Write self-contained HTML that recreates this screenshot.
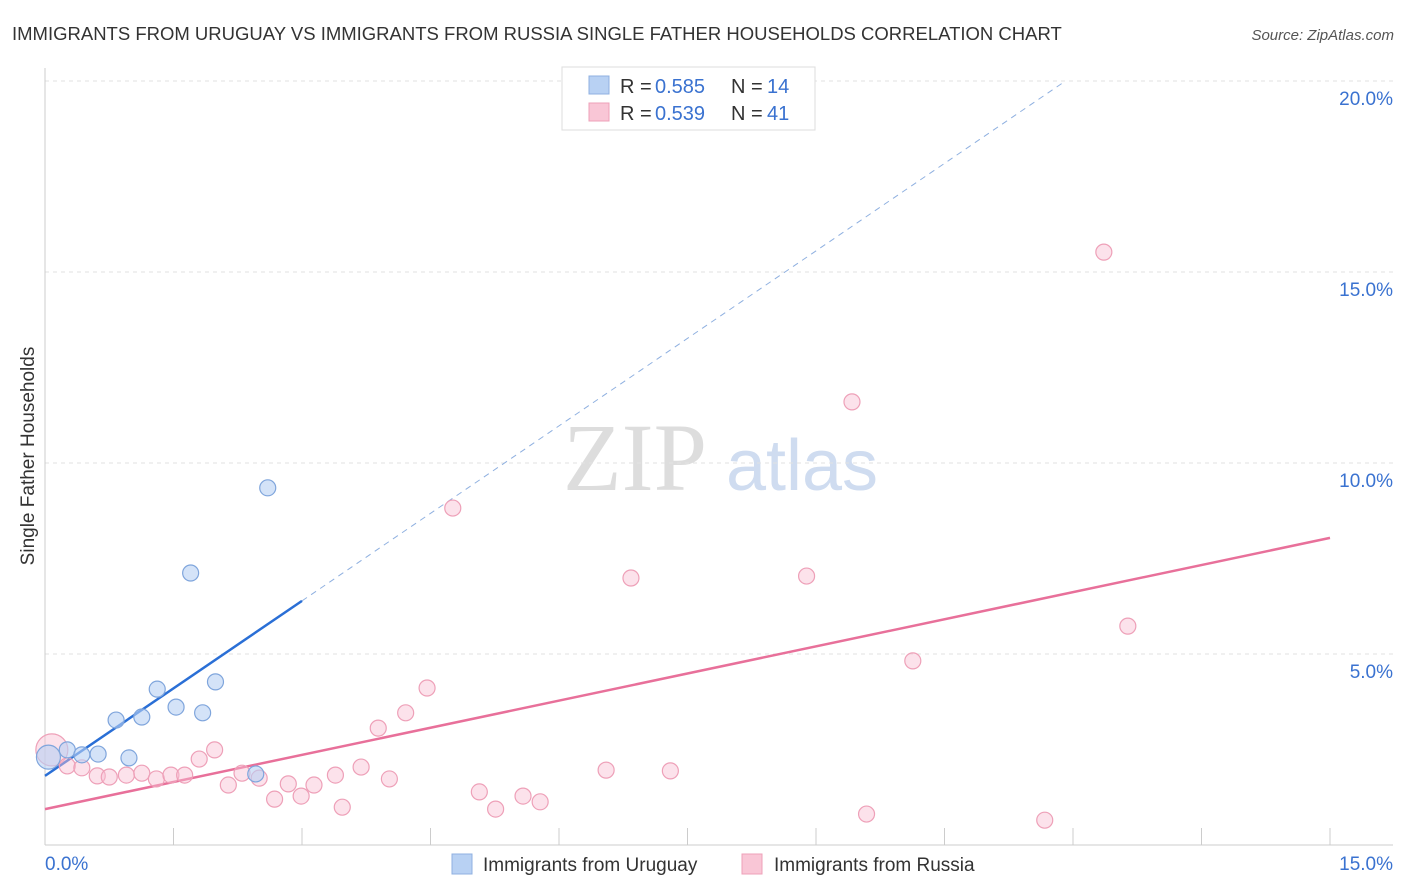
<!DOCTYPE html>
<html><head><meta charset="utf-8"><style>
body{margin:0;background:#fff;font-family:"Liberation Sans",sans-serif}
</style></head><body>
<svg id="c" width="1406" height="892" style="display:block">
<text x="12" y="40" font-size="18.5" fill="#333">IMMIGRANTS FROM URUGUAY VS IMMIGRANTS FROM RUSSIA SINGLE FATHER HOUSEHOLDS CORRELATION CHART</text>
<text x="1394" y="40" font-size="15" fill="#555" font-style="italic" text-anchor="end">Source: ZipAtlas.com</text>
<text x="34" y="456" font-size="19" fill="#333" text-anchor="middle" transform="rotate(-90 34 456)">Single Father Households</text>
<g><text x="635" y="490" font-size="96" fill="#ddd" font-family="Liberation Serif,serif" text-anchor="middle">ZIP</text><text x="802" y="490" font-size="72" fill="#cfdcf0" text-anchor="middle">atlas</text></g>
<g id="grid"></g><g id="axes"></g><g id="lines"></g><g id="pts"></g>
<g>
<rect x="562" y="67" width="253" height="63" fill="#fff" stroke="#ddd"/>
<rect x="589" y="76" width="20" height="18" fill="#b8d1f3" stroke="#8fb0e0"/>
<rect x="589" y="103" width="20" height="18" fill="#f9c6d6" stroke="#eea0b8"/>
<g font-size="20">
<text x="620" y="93" fill="#333">R =</text><text x="655" y="93" fill="#3a72d0">0.585</text><text x="731" y="93" fill="#333">N =</text><text x="767" y="93" fill="#3a72d0">14</text></g>
<g font-size="20">
<text x="620" y="120" fill="#333">R =</text><text x="655" y="120" fill="#3a72d0">0.539</text><text x="731" y="120" fill="#333">N =</text><text x="767" y="120" fill="#3a72d0">41</text></g>
</g>
<g>
<rect x="452" y="854" width="20" height="20" fill="#b8d1f3" stroke="#8fb0e0"/>
<text x="483" y="871" font-size="19" fill="#333">Immigrants from Uruguay</text>
<rect x="742" y="854" width="20" height="20" fill="#f9c6d6" stroke="#eea0b8"/>
<text x="774" y="871" font-size="19" fill="#333">Immigrants from Russia</text>
</g>
</svg>
<script>
const uruguayX=[0.04,0.26,0.43,0.62,0.83,0.98,1.13,1.31,1.53,1.70,1.84,1.99,2.46,2.60];
const uruguayY=[2.3,2.49,2.36,2.38,3.27,2.28,3.35,4.08,3.61,7.12,3.46,4.27,1.86,9.35];
const russiaX=[0.08,0.26,0.43,0.61,0.75,0.95,1.13,1.30,1.47,1.63,1.80,1.98,2.14,2.30,2.50,2.68,2.84,2.99,3.14,3.39,3.47,3.69,3.89,4.02,4.21,4.46,4.76,5.07,5.26,5.58,5.78,6.55,6.84,7.30,8.89,9.42,9.59,10.13,11.67,12.36,12.64];
const russiaY=[2.49,2.07,2.02,1.81,1.78,1.83,1.88,1.73,1.83,1.83,2.25,2.49,1.57,1.88,1.75,1.20,1.60,1.28,1.57,1.83,0.99,2.04,3.06,1.73,3.46,4.11,8.82,1.39,0.94,1.28,1.13,1.96,6.99,1.94,7.04,11.6,0.81,4.82,0.65,15.52,5.73];
const yTicks=[5,10,15,20];
const yTickLabels=["5.0%","10.0%","15.0%","20.0%"];
const xTicks=[0,1.5,3,4.5,6,7.5,9,10.5,12,13.5,15];
const uruguayTrend=[1.81,1.527];
const russiaTrend=[0.94,0.4733];
const NS="http://www.w3.org/2000/svg";
const sx=v=>45+v*85.667, sy=v=>845-v*38.2;
function mk(g,t,a){const e=document.createElementNS(NS,t);for(const k in a)e.setAttribute(k,a[k]);document.getElementById(g).appendChild(e);return e;}
yTicks.forEach((t,i)=>{
 let l=mk('grid','line',{x1:45,x2:1393,y1:sy(t),y2:sy(t),stroke:'#e2e2e2','stroke-dasharray':'4 4'});
 
 
 let tx=mk('grid','text',{x:1393,y:sy(t)+24,'font-size':19,fill:'#3a72d0','text-anchor':'end'});
 tx.textContent=yTickLabels[i];
 
 
});
let ax=mk('axes','line',{x1:45,x2:45,y1:68,y2:845,stroke:'#ccc'});


let bx=mk('axes','line',{x1:45,x2:1393,y1:845,y2:845,stroke:'#ccc'});


xTicks.forEach(t=>{let l=mk('axes','line',{x1:sx(t),x2:sx(t),y1:828,y2:845,stroke:'#ccc'});
 
 });
[[0,'0.0%','start',45],[15,'15.0%','end',1393]].forEach(a=>{let t=mk('axes','text',{x:a[3],y:870,'font-size':19,fill:'#3a72d0','text-anchor':a[2]});t.textContent=a[1];
 
 });
const ut=x=>uruguayTrend[0]+uruguayTrend[1]*x, rt=x=>russiaTrend[0]+russiaTrend[1]*x;
let u1=mk('lines','line',{x1:sx(0),y1:sy(ut(0)),x2:sx(3),y2:sy(ut(3)),stroke:'#2a6fd6','stroke-width':2.5});


const xe=(20-uruguayTrend[0])/uruguayTrend[1];
let u2=mk('lines','line',{x1:sx(3),y1:sy(ut(3)),x2:sx(xe),y2:sy(20),stroke:'#8fb0e0','stroke-width':1,'stroke-dasharray':'6 5'});


let r1=mk('lines','line',{x1:sx(0),y1:sy(rt(0)),x2:sx(15),y2:sy(rt(15)),stroke:'#e8709a','stroke-width':2.5});


russiaX.forEach((x,i)=>{let c=mk('pts','circle',{cx:sx(x),cy:sy(russiaY[i]),r:i==0?16:8,fill:'rgba(249,190,210,0.45)',stroke:'#eea0b8','stroke-width':1.2});
 
 });
uruguayX.forEach((x,i)=>{let c=mk('pts','circle',{cx:sx(x),cy:sy(uruguayY[i]),r:i==0?12:8,fill:'rgba(184,209,243,0.6)',stroke:'#7fa5dc','stroke-width':1.2});
 
 });
</script>
</body></html>
